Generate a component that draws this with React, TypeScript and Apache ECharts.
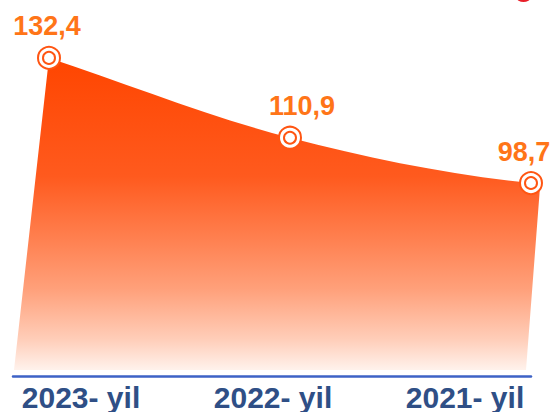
import React, { useEffect, useRef } from "react";
import * as echarts from "echarts";

const CATEGORIES = ["2023- yil", "2022- yil", "2021- yil"];
const VALUES = [132.4, 110.9, 98.7];
const VALUE_LABELS = ["132,4", "110,9", "98,7"];

export default function App() {
  const ref = useRef<HTMLDivElement>(null);
  useEffect(() => {
    const chart = echarts.init(ref.current!, null, { renderer: "svg" });
    const ORANGE = "#FF5512";
    const FILL_BASE = 48.35;
    const labelShift = [[-2, 0], [12, 0], [-7, 0]];
    const gradient = new echarts.graphic.LinearGradient(0, 0, 0, 1, [
      { offset: 0, color: "#FF4500" },
      { offset: 0.38, color: "#FF5A1E" },
      { offset: 0.58, color: "#FF8050" },
      { offset: 0.74, color: "#FFA07A" },
      { offset: 0.9, color: "#FFCDB8" },
      { offset: 1, color: "#FFF2EC" },
    ]);
    const valueFont = "'Liberation Sans', Arial, sans-serif";
    const option = {
      animation: false,
      grid: [
        { left: 49, right: 20, top: 0, bottom: 37 },
        { left: 81, right: 86, top: 0, bottom: 37 },
        { left: 13, right: 20, top: 0, bottom: 36 },
      ],
      xAxis: [
        { gridIndex: 0, type: "category", data: CATEGORIES, boundaryGap: false, show: false },
        {
          gridIndex: 1,
          type: "category",
          data: CATEGORIES,
          boundaryGap: false,
          axisLine: { show: false },
          axisTick: { show: false },
          axisLabel: {
            margin: 7,
            color: "#2F4F86",
            fontSize: 30,
            fontWeight: "bold",
            fontFamily: "'Liberation Sans', Arial, sans-serif",
          },
        },
        {
          gridIndex: 2,
          type: "category",
          data: CATEGORIES,
          axisLine: { onZero: false, lineStyle: { color: "#3D62C6", width: 2.5 } },
          axisTick: { show: false },
          axisLabel: { show: false },
        },
      ],
      yAxis: [
        { gridIndex: 0, type: "value", min: 47, max: 148, show: false },
        { gridIndex: 1, type: "value", show: false },
        { gridIndex: 2, type: "value", show: false },
      ],
      graphic: [
        { type: "circle", shape: { cx: 523.5, cy: -8, r: 10 }, style: { fill: "#E8202A" } },
      ],
      series: [
        {
          type: "custom",
          xAxisIndex: 0,
          yAxisIndex: 0,
          clip: false,
          data: VALUES.map((v, i) => [i, v]),
          renderItem: (params: any, api: any) => {
            if (params.dataIndex !== 0) return null;
            const p = VALUES.map((v, i) => api.coord([i, v]));
            const base = api.coord([0, FILL_BASE])[1];
            const [a, b, c] = p;
            const d1 = (b[0] - a[0]) / 3;
            const d2 = (c[0] - b[0]) / 3;
            const slopeB = (c[1] - a[1]) / (c[0] - a[0]);
            const d =
              `M${a[0]},${a[1]} ` +
              `C${a[0] + d1},${a[1] + (b[1] - a[1]) / 3} ${b[0] - d1},${b[1] - slopeB * d1} ${b[0]},${b[1]} ` +
              `C${b[0] + d2},${b[1] + slopeB * d2} ${c[0] - d2},${c[1] - 0.1 * d2} ${c[0]},${c[1]} ` +
              `L${c[0] + 9},${c[1] + 4} L${c[0] - 5},${base} L${a[0] - 35},${base} Z`;
            return { type: "path", shape: { pathData: d }, style: { fill: gradient } };
          },
        },
        {
          type: "scatter",
          xAxisIndex: 0,
          yAxisIndex: 0,
          symbol: "circle",
          symbolSize: 22,
          itemStyle: { color: "#FFFFFF", borderColor: ORANGE, borderWidth: 2, opacity: 1 },
          data: VALUES.map((v, i) => ({
            value: [CATEGORIES[i], v],
            label: { offset: labelShift[i] },
          })),
          label: {
            show: true,
            position: "top",
            distance: 6,
            formatter: (p: any) => VALUE_LABELS[p.dataIndex],
            color: "#FF7518",
            fontSize: 27,
            fontWeight: "bold",
            fontFamily: valueFont,
          },
          z: 5,
        },
        {
          type: "scatter",
          xAxisIndex: 0,
          yAxisIndex: 0,
          symbol: "circle",
          symbolSize: 12,
          itemStyle: { color: "#FFFFFF", borderColor: ORANGE, borderWidth: 2, opacity: 1 },
          data: VALUES.map((v, i) => [CATEGORIES[i], v]),
          z: 6,
        },
      ],
    };
    chart.setOption(option as any);
    return () => chart.dispose();
  }, []);
  return (
    <div
      ref={ref}
      style={{ position: "fixed", left: 0, top: 0, width: 551, height: 412, background: "#FFFFFF" }}
    />
  );
}
